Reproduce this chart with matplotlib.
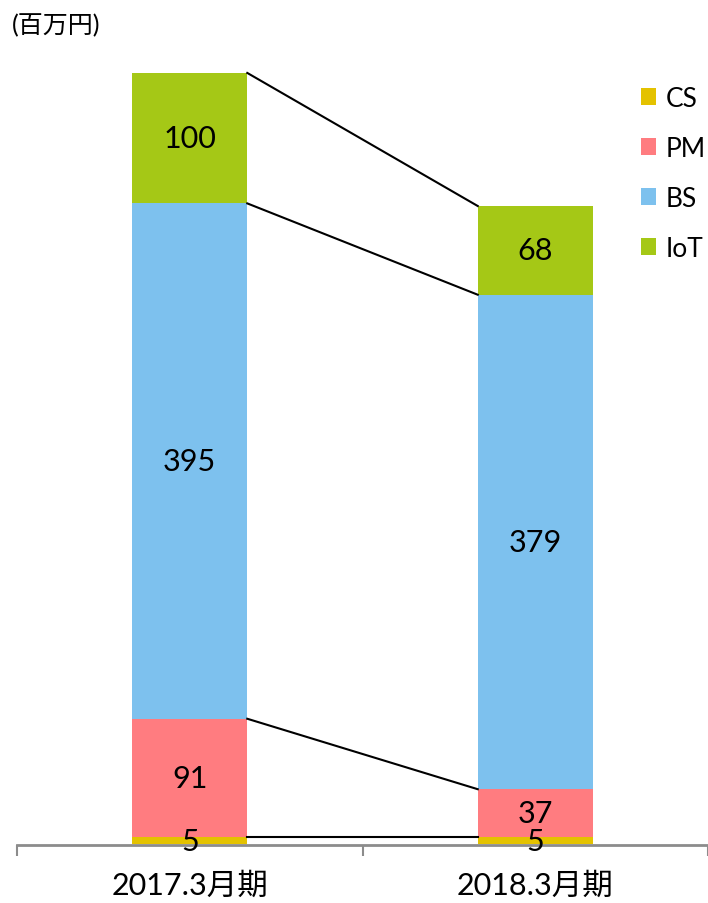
import matplotlib.pyplot as plt
import numpy as np

plt.rcParams['font.family'] = ['Lato', 'Noto Sans CJK JP', 'DejaVu Sans']

categories = ['2017.3月期', '2018.3月期']
segments = ['CS', 'PM', 'BS', 'IoT']
values = {
    'CS': [5, 5],
    'PM': [91, 37],
    'BS': [395, 379],
    'IoT': [100, 68],
}
colors = {'CS': '#E4C200', 'PM': '#FF7C80', 'BS': '#7DC1EE', 'IoT': '#A5C816'}

fig = plt.figure(figsize=(7.08, 9.04), dpi=100)
ax = fig.add_axes([17 / 708, 59 / 904, 691 / 708, 805 / 904])

x = np.arange(len(categories))
width = 0.333
bottom = np.zeros(len(categories))
tops = []
for seg in segments:
    vals = np.array(values[seg], dtype=float)
    ax.bar(x, vals, width, bottom=bottom, color=colors[seg], label=seg, zorder=2)
    for i, v in enumerate(vals):
        ax.text(x[i], bottom[i] + v / 2, str(int(v)), ha='center', va='center',
                fontsize=22, color='black', zorder=4)
    bottom = bottom + vals
    tops.append(bottom.copy())

# connector lines between the bars
for t in tops:
    ax.plot([x[0] + width / 2, x[1] - width / 2], [t[0], t[1]], color='black', lw=1.5, zorder=3)

ax.set_xlim(-0.5, 1.5)
ax.set_ylim(0, 617)
for s in ['top', 'right', 'left']:
    ax.spines[s].set_visible(False)
ax.spines['bottom'].set_color('#8c8c8c')
ax.spines['bottom'].set_linewidth(2)
ax.spines['bottom'].set_position(('outward', 1))
ax.set_yticks([])
ax.set_xticks([-0.5, 0.5, 1.5], minor=True)
ax.tick_params(axis='x', which='minor', length=8, width=1.5, color='#8c8c8c', direction='out')
ax.tick_params(axis='x', which='major', length=0, pad=18, labelsize=22)
ax.set_xticks(x)
ax.set_xticklabels(categories)

leg = ax.legend(loc='upper left', bbox_to_anchor=(613 / 691, (864 - 95) / 805), frameon=False,
                prop={'size': 19}, handlelength=0.6, handleheight=0.6,
                handletextpad=0.35, labelspacing=0.95, borderaxespad=0)

fig.text(12 / 708, 1 - 26 / 904, '(百万円)', fontsize=18, ha='left', va='center')

fig.savefig('out.png', dpi=100)
